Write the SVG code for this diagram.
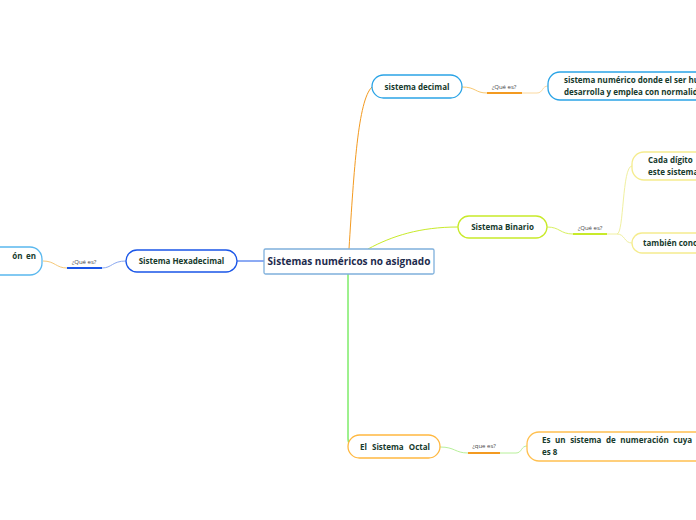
<svg xmlns="http://www.w3.org/2000/svg" width="696" height="520" viewBox="0 0 696 520">
<style>
.t{font-family:"Open Sans","Noto Sans",sans-serif;font-weight:bold;font-size:8px;fill:#163a2c}
.c{font-family:"Open Sans","Noto Sans",sans-serif;font-weight:bold;font-size:10px;fill:#1d2b4d}
.q{font-family:"Open Sans","Noto Sans",sans-serif;font-size:6px;fill:#444}
.n{fill:#fff;stroke-width:1.3}
.l{fill:none;stroke-width:1}
</style>
<rect width="696" height="520" fill="#fff"/>
<g id="connectors">
  <path class="l" d="M264,261 H237" stroke="#1a56e8" stroke-width="1.3"/>
  <path class="l" d="M126,261 C112,261 112,268 102,268" stroke="#8aa8f0"/>
  <path d="M67,268 H102" stroke="#1a56e8" stroke-width="2"/>
  <path class="l" d="M67,268 C56,268 55,261 43,261" stroke="#f5c878"/>
  <path class="l" d="M349,249 C354,170 358,100 372,87" stroke="#f39a20" stroke-width="1.8"/>
  <path class="l" d="M462,87 C476,87 475,93 487,93" stroke="#f8c870"/>
  <path d="M487,93 H522" stroke="#f39a20" stroke-width="2"/>
  <path class="l" d="M522,93 H537 C543,93 542,86 548,86" stroke="#fbd9a0"/>
  <path class="l" d="M368,249 C392,236 420,227 458,227" stroke="#c8ea2a" stroke-width="1.5"/>
  <path class="l" d="M547,227 C560,227 560,234 573,234" stroke="#d8f060"/>
  <path d="M573,234 H607" stroke="#c8ea2a" stroke-width="2"/>
  <path class="l" d="M607,234 H617 C624,234 622,166 632,166" stroke="#f0f0a0"/>
  <path class="l" d="M617,234 C625,234 624,243 632,243" stroke="#f0f0a0"/>
  <path class="l" d="M348,273 V438 C348,444 350,447 350,447" stroke="#3de21e" stroke-width="1.8"/>
  <path class="l" d="M440,447 C455,447 455,453 468,453" stroke="#b8f09a"/>
  <path d="M468,453 H500" stroke="#f39a20" stroke-width="2"/>
  <path class="l" d="M500,453 H516 C522,453 521,446 527,446" stroke="#b8f09a"/>
</g>
<g id="central">
  <rect class="n" x="264" y="249" width="170" height="25" rx="1.5" stroke="#7fb0dc"/>
  <text class="c" x="349" y="265" text-anchor="middle">Sistemas numéricos no asignado</text>
</g>
<g id="hexadecimal">
  <rect class="n" x="126" y="250" width="111" height="22" rx="11" stroke="#1a56e8"/>
  <text class="t" x="181.5" y="264" text-anchor="middle">Sistema Hexadecimal</text>
</g>
<g id="label-hex"><text class="q" x="84" y="264" text-anchor="middle">¿Qué es?</text></g>
<g id="hex-def">
  <rect class="n" x="-60" y="247" width="102" height="28" rx="12" stroke="#5ab8ee"/>
  <text class="t" x="36" y="259" text-anchor="end" font-size="8.5" word-spacing="1.5">ón en</text>
</g>
<g id="decimal">
  <rect class="n" x="372" y="75" width="90" height="23" rx="11.5" stroke="#2ba4e6"/>
  <text class="t" x="417" y="89.5" text-anchor="middle">sistema decimal</text>
</g>
<g id="label-dec"><text class="q" x="504" y="89" text-anchor="middle">¿Qué es?</text></g>
<g id="decimal-def">
  <rect class="n" x="548" y="72" width="180" height="28" rx="12" stroke="#2ba4e6"/>
  <text class="t" x="564" y="83">sistema numérico donde el ser hu</text>
  <text class="t" x="564" y="95">desarrolla y emplea con normalid</text>
</g>
<g id="binario">
  <rect class="n" x="458" y="216" width="89" height="22" rx="11" stroke="#c8ea2a"/>
  <text class="t" x="502.5" y="230" text-anchor="middle">Sistema Binario</text>
</g>
<g id="label-bin"><text class="q" x="590" y="230" text-anchor="middle">¿Qué es?</text></g>
<g id="binario-def1">
  <rect class="n" x="632" y="152" width="100" height="28" rx="12" stroke="#f5ec8e"/>
  <text class="t" x="648" y="163">Cada dígito</text>
  <text class="t" x="648" y="175">este sistema</text>
</g>
<g id="binario-def2">
  <rect class="n" x="632" y="233" width="100" height="20" rx="10" stroke="#f5ec8e"/>
  <text class="t" x="643" y="246">también conoc</text>
</g>
<g id="octal">
  <rect class="n" x="348" y="435" width="92" height="23" rx="11.5" stroke="#ffb840"/>
  <text class="t" x="395" y="449.5" text-anchor="middle" word-spacing="3">El Sistema Octal</text>
</g>
<g id="label-oct"><text class="q" x="484" y="448" text-anchor="middle">¿que es?</text></g>
<g id="octal-def">
  <rect class="n" x="527" y="432" width="200" height="29" rx="12" stroke="#ffc050"/>
  <text class="t" x="542" y="443" word-spacing="2.5">Es un sistema de numeración cuya b</text>
  <text class="t" x="542" y="455">es 8</text>
</g>
</svg>
